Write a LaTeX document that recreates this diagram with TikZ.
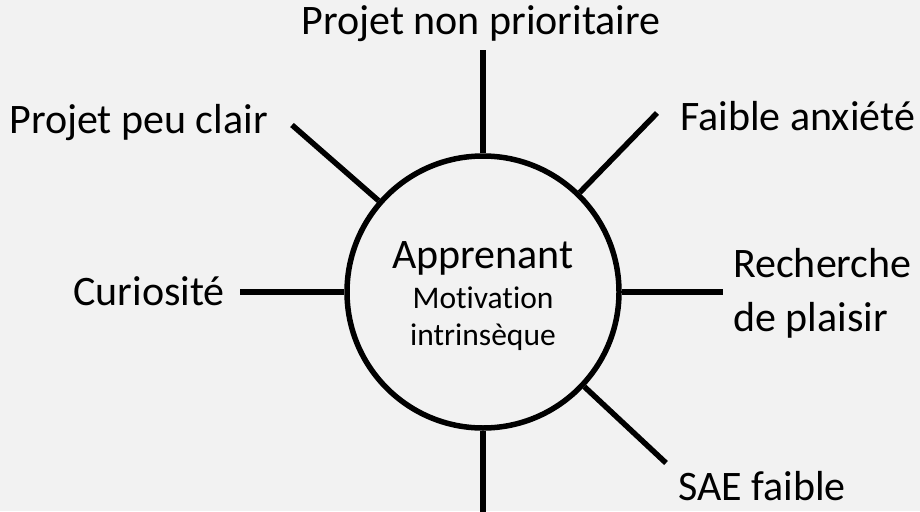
\documentclass[tikz,border=0pt]{standalone}
\usepackage{fontspec}
\setmainfont{Carlito}[Ligatures=NoCommon]
\usepackage{xcolor}
\definecolor{bgcol}{HTML}{F2F2F2}
\usetikzlibrary{positioning}

\begin{document}
\begin{tikzpicture}[
  x=1pt,y=-1pt,
  big/.style={font=\fontsize{42}{54}\selectfont},
  small/.style={font=\fontsize{31.5}{37}\selectfont,anchor=base},
  lbl/.style={big,inner sep=0pt},
  hub/.style={draw,circle,line width=5.5pt,minimum size=272pt,inner sep=0pt},
  spoke/.style={line width=5.5pt},
]
\fill[bgcol] (0,0) rectangle (920,511);
\useasboundingbox (0,0) rectangle (920,511);

% the learner in the middle
\node[hub] (app) at (483,292) {};
\node[big,anchor=base] (appt) at (483,268) {Apprenant};
\node[small] (mot) at (483,308) {Motivation};
\node[small] (intr) at (483,345) {intrinsèque};

% free ends of the spokes
\coordinate (top) at (483,50);
\coordinate (ul) at (292,125);
\coordinate (ur) at (657,113);
\coordinate (lft) at (240,292);
\coordinate (rgt) at (723,292);
\coordinate (lr) at (666,463);
\coordinate (bot) at (483,530);

\foreach \e in {top,ul,ur,lft,rgt,lr,bot}
  \draw[spoke] (app) -- (\e);

% labels
\node[lbl,anchor=base] (prio) at (481,35) {Projet non prioritaire};
\node[lbl,anchor=base east] (clair) at (268,133) {Projet peu clair};
\node[lbl,anchor=base west] (anx) at (680,130) {Faible anxiété};
\node[lbl,anchor=base east] (curio) at (225,305) {Curiosité};
\node[lbl,anchor=base west] (rech) at (733,277) {Recherche};
\node[lbl,anchor=base west] (plais) at (733,331) {de plaisir};
\node[lbl,anchor=base west] (sae) at (678,500) {SAE faible};
\end{tikzpicture}
\end{document}
